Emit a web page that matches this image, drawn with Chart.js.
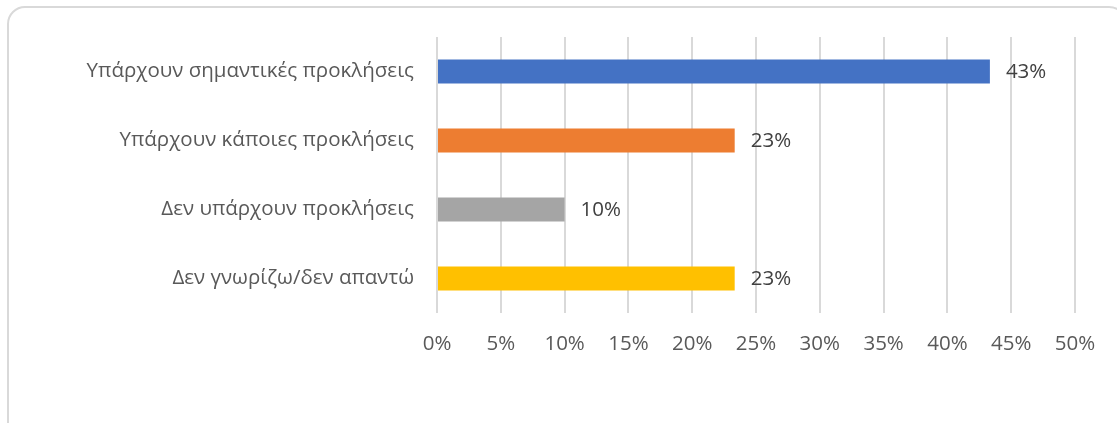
<!DOCTYPE html>
<html>
<head>
<meta charset="utf-8">
<script src="https://cdn.jsdelivr.net/npm/chart.js@4/dist/chart.umd.min.js"></script>
<style>
  html, body { margin: 0; padding: 0; background: #fff; overflow: hidden; }
  #wrap { position: relative; width: 1117px; height: 423px; overflow: hidden; }
  #frame { position: absolute; left: 7px; top: 6px; width: 1120px; height: 440px;
           border: 2px solid #d9d9d9; border-radius: 18px; box-sizing: border-box; }
  canvas { position: absolute; left: 0; top: 0; }
</style>
</head>
<body>
<div id="wrap">
  <div id="frame"></div>
  <canvas id="c" width="1117" height="423"></canvas>
</div>
<script>
const categories = ["Υπάρχουν σημαντικές προκλήσεις", "Υπάρχουν κάποιες προκλήσεις", "Δεν υπάρχουν προκλήσεις", "Δεν γνωρίζω/δεν απαντώ"];
const values = [43.33, 23.33, 10.0, 23.33];
const barColors = ["#4472C4", "#ED7D31", "#A5A5A5", "#FFC000"];
const tickValues = [0, 5, 10, 15, 20, 25, 30, 35, 40, 45, 50];

const FONT = "'Open Sans', 'Noto Sans', sans-serif";
const FSIZE = 20.5;

const dataLabels = {
  id: 'dataLabels',
  afterDatasetsDraw(chart) {
    const ctx = chart.ctx;
    const meta = chart.getDatasetMeta(0);
    ctx.save();
    ctx.font = FSIZE + "px " + FONT;
    ctx.fillStyle = "#404040";
    ctx.textAlign = "left";
    ctx.textBaseline = "middle";
    meta.data.forEach((bar, i) => {
      ctx.fillText(Math.round(values[i]) + "%", bar.x + 16, bar.y + 1);
    });
    ctx.restore();
  }
};

new Chart(document.getElementById('c'), {
  type: 'bar',
  data: {
    labels: categories,
    datasets: [{
      data: values,
      backgroundColor: barColors,
      borderWidth: 0,
      categoryPercentage: 1.0,
      barPercentage: 0.35
    }]
  },
  options: {
    indexAxis: 'y',
    responsive: false,
    animation: false,
    devicePixelRatio: 1,
    layout: { padding: { top: 37, right: 42, left: 0, bottom: 0 } },
    plugins: { legend: { display: false }, tooltip: { enabled: false } },
    scales: {
      x: {
        min: 0, max: 50,
        afterBuildTicks(axis) { axis.ticks = tickValues.map(v => ({ value: v })); },
        afterFit(axis) { axis.height = 110; },
        grid: { color: "#d9d9d9", lineWidth: 2, drawTicks: false },
        border: { display: false },
        ticks: {
          padding: 19,
          color: "#595959",
          font: { family: FONT, size: FSIZE },
          callback: v => v + "%"
        }
      },
      y: {
        afterFit(axis) { axis.width = 437; },
        grid: { display: false, drawTicks: false },
        border: { display: false },
        ticks: {
          padding: 23,
          color: "#595959",
          font: { family: FONT, size: FSIZE }
        }
      }
    }
  },
  plugins: [dataLabels]
});
</script>
</body>
</html>
